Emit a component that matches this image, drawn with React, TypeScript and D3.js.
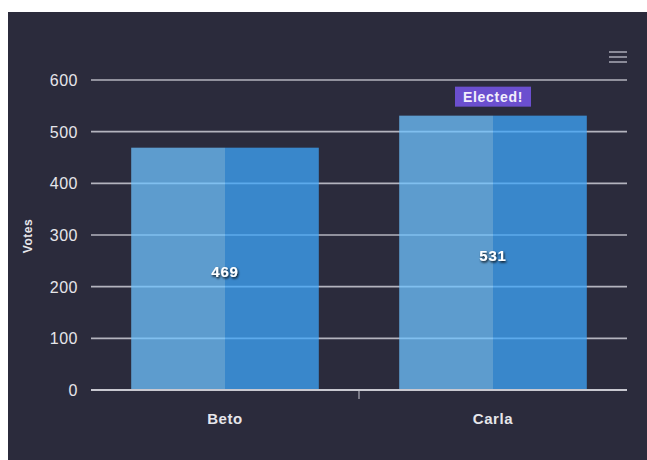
import React from "react";
import * as d3 from "d3";

const categories = ["Beto", "Carla"];
const votes = [469, 531];
const yTicks = [0, 100, 200, 300, 400, 500, 600];
const badgeText = "Elected!";
const yTitle = "Votes";

export default function App() {
  const ox = -8, oy = -12; // svg placed at page (8,12)
  const x = d3
    .scaleBand<string>()
    .domain(categories)
    .range([91 + ox, 627 + ox])
    .paddingInner(0.3)
    .paddingOuter(0.15);
  const y = d3.scaleLinear().domain([0, 600]).range([390 + oy, 80 + oy]);
  const left = 91 + ox, right = 627 + ox;
  const winner = votes.indexOf(d3.max(votes) as number);
  const font = "'Liberation Sans', Arial, sans-serif";
  return (
    <svg
      width={700}
      height={500}
      style={{
        display: "block",
        position: "fixed",
        left: 8,
        top: 12,
        background: "#2b2b3c",
      }}
    >
      <rect x={0} y={0} width={700} height={500} fill="#2b2b3c" />
      {/* gridlines */}
      {yTicks.map((t) => (
        <line
          key={t}
          x1={left}
          x2={right}
          y1={y(t)}
          y2={y(t)}
          stroke={t === 0 ? "#c8c8d0" : "#b4b4be"}
          strokeWidth={t === 0 ? 2 : 1.6}
        />
      ))}
      {/* bars */}
      {categories.map((c, i) => {
        const bx = x(c) as number;
        const bw = x.bandwidth();
        const top = y(votes[i]);
        const h = y(0) - top;
        return (
          <g key={c}>
            <rect x={bx} y={top} width={bw / 2} height={h} fill="#6fc3ff" fillOpacity={0.75} />
            <rect x={bx + bw / 2} y={top} width={bw / 2} height={h} fill="#3fa7fb" fillOpacity={0.75} />
          </g>
        );
      })}
      {/* axis baseline */}
      <line x1={left} x2={right} y1={y(0)} y2={y(0)} stroke="#c8c8d0" strokeWidth={2} />
      <line
        x1={(left + right) / 2}
        x2={(left + right) / 2}
        y1={y(0)}
        y2={y(0) + 9}
        stroke="#c8c8d0"
        strokeWidth={1}
      />
      {/* y tick labels */}
      {yTicks.map((t) => (
        <text
          key={t}
          x={78 + ox}
          y={y(t) + 6}
          textAnchor="end"
          fill="#e6e6ea"
          fontSize={16}
          letterSpacing={0.5}
          fontFamily={font}
        >
          {t}
        </text>
      ))}
      {/* y title */}
      <text
        transform={`translate(${32 + ox},${236 + oy}) rotate(-90)`}
        textAnchor="middle"
        fill="#e6e6ea"
        fontSize={12}
        fontWeight="bold"
        letterSpacing={0.5}
        fontFamily={font}
      >
        {yTitle}
      </text>
      {/* x labels */}
      {categories.map((c) => (
        <text
          key={c}
          x={(x(c) as number) + x.bandwidth() / 2}
          y={424 + oy}
          textAnchor="middle"
          fill="#e6e6ea"
          fontSize={15}
          fontWeight="bold"
          letterSpacing={0.6}
          fontFamily={font}
        >
          {c}
        </text>
      ))}
      {/* data labels */}
      <defs>
        <filter id="ts" x="-20%" y="-20%" width="140%" height="160%">
          <feDropShadow dx="1" dy="1.5" stdDeviation="1" floodColor="#000" floodOpacity="0.9" />
        </filter>
      </defs>
      {categories.map((c, i) => (
        <text
          key={c}
          x={(x(c) as number) + x.bandwidth() / 2}
          y={(y(votes[i]) + y(0)) / 2 + 8}
          textAnchor="middle"
          fill="#ffffff"
          fontSize={15}
          fontWeight="bold"
          letterSpacing={0.8}
          fontFamily={font}
          filter="url(#ts)"
        >
          {votes[i]}
        </text>
      ))}
      {/* badge */}
      {(() => {
        const cx = (x(categories[winner]) as number) + x.bandwidth() / 2;
        const by = y(votes[winner]) - 29;
        return (
          <g>
            <rect x={cx - 38} y={by} width={76} height={20} fill="#6b4fcf" />
            <text
              x={cx}
              y={by + 15}
              textAnchor="middle"
              fill="#f2eefc"
              fontSize={14}
              fontWeight="bold"
              letterSpacing={0.7}
              fontFamily={font}
            >
              {badgeText}
            </text>
          </g>
        );
      })()}
      {/* menu icon */}
      {[0, 1, 2].map((k) => (
        <line
          key={k}
          x1={609 + ox}
          x2={627 + ox}
          y1={52 + oy + k * 5}
          y2={52 + oy + k * 5}
          stroke="#8a8a98"
          strokeWidth={2}
        />
      ))}
    </svg>
  );
}
